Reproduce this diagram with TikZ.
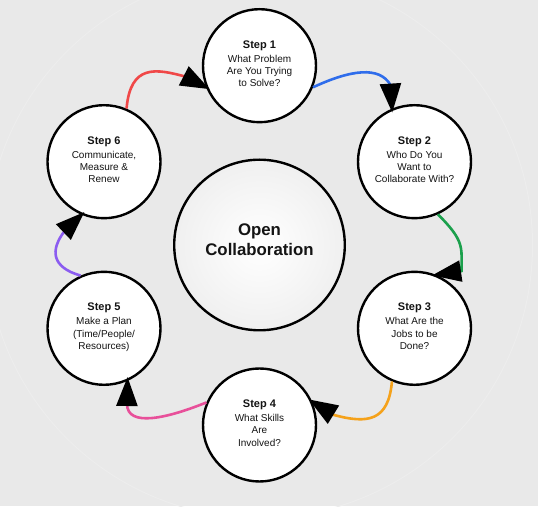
\documentclass[tikz,border=0pt]{standalone}
\usepackage{fontspec}
\setmainfont{Liberation Sans}
\usetikzlibrary{arrows.meta}
\definecolor{bgc}{HTML}{E9E9E9}
\definecolor{ringc}{HTML}{EDEDED}
\definecolor{txtc}{HTML}{141414}
\definecolor{redc}{HTML}{F04848}
\definecolor{bluec}{HTML}{2F6DEB}
\definecolor{greenc}{HTML}{1BA04C}
\definecolor{orangec}{HTML}{F5A21B}
\definecolor{pinkc}{HTML}{E8509A}
\definecolor{purplec}{HTML}{8B5CF0}
\newcommand\steptitle[1]{{\bfseries\fontsize{11}{13}\selectfont #1}\\[1.8pt]}
\newcommand\steppad{\\[-8.3pt]\mbox{}}
\begin{document}
\begin{tikzpicture}[x=1pt,y=1pt,
  stepnode/.style={circle,draw=black,line width=2.4pt,fill=white,minimum size=113pt,
    inner sep=0pt,align=center,text=txtc,font=\fontsize{10}{12.3}\selectfont},
  hubnode/.style={circle,draw=black,line width=2.4pt,inner color=white,outer color=black!6,
    minimum size=170.6pt,inner sep=0pt,align=center,text=txtc,font=\bfseries\fontsize{16.8}{20.7}\selectfont},
  flow/.style={line width=2.6pt,shorten >=-4pt,-{Triangle[length=29pt,width=21pt,color=black]}}]
\useasboundingbox (0,0) rectangle (538,506);
\fill[bgc] (0,0) rectangle (538,506);
\begin{scope}
\clip (0,0) rectangle (538,506);
\node[hubnode] (hub) at (259.5,261) {Open\\Collaboration\\[-9.7pt]\mbox{}};
\draw[ringc,line width=1pt] (hub.center) circle[radius=273];
\end{scope}
\node[stepnode] (s1) at (259.5,440.3) {\steptitle{Step 1}What Problem\\Are You Trying\\to Solve?\steppad};
\node[stepnode] (s2) at (414.5,344.3) {\steptitle{Step 2}Who Do You\\Want to\\Collaborate With?\steppad};
\node[stepnode] (s3) at (414.5,177.7) {\steptitle{Step 3}What Are the\\Jobs to be\\Done?\steppad};
\node[stepnode] (s4) at (259.5,81) {\steptitle{Step 4}What Skills\\Are\\Involved?\steppad};
\node[stepnode] (s5) at (104,177.7) {\steptitle{Step 5}Make a Plan\\(Time/People/\\Resources)\steppad};
\node[stepnode] (s6) at (104,344.3) {\steptitle{Step 6}Communicate,\\Measure \&\\Renew\steppad};
\coordinate (rb) at (185,429.5);
\coordinate (bb) at (390.5,421);
\coordinate (gb) at (461.5,235);
\coordinate (ob) at (334,91);
\coordinate (pb) at (127,102.2);
\coordinate (ub) at (65,275.5);
\draw[flow,draw=redc] (s6.67) .. controls +(85:45) and +(165:30) .. (rb) -- (s1.202);
\draw[flow,draw=bluec] (s1.-22) .. controls +(25:42) and +(120:22) .. (bb) -- (s2.113);
\draw[flow,draw=greenc] (s2.-66) .. controls +(-45:38) and +(90:24) .. (gb) -- (s3.68);
\draw[flow,draw=orangec] (s3.247) .. controls +(-95:40) and +(-15:35) .. (ob) -- (s4.24);
\draw[flow,draw=pinkc] (s4.157) .. controls +(202:42) and +(-90:24) .. (pb) -- (s5.-66);
\draw[flow,draw=purplec] (s5.114) .. controls +(164:30) and +(232:25) .. (ub) -- (s6.247);
\end{tikzpicture}
\end{document}
